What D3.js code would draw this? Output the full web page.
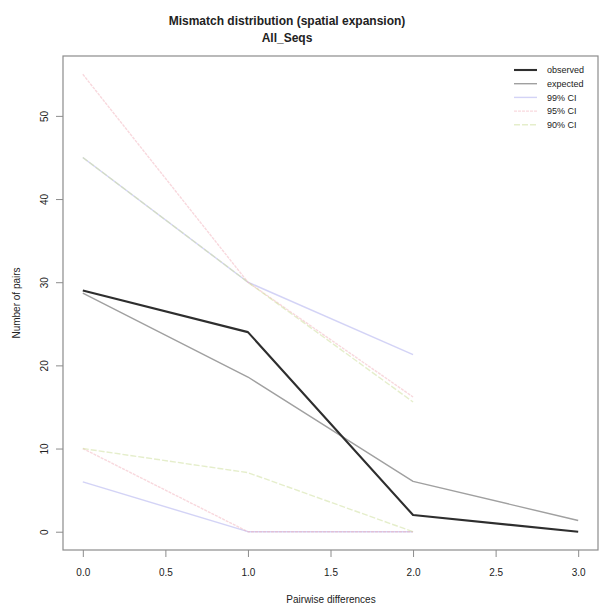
<!DOCTYPE html>
<html>
<head>
<meta charset="utf-8">
<script src="https://cdn.jsdelivr.net/npm/d3@7"></script>
<style>
  body { margin: 0; background: #fff; }
  svg text { font-family: "Liberation Sans", Arial, sans-serif; fill: #222; }
</style>
</head>
<body>
<div class="chart"></div>
<script>
// データ
const diffs = [0, 1, 2, 3];
const observed = [29, 24, 2, 0];
const expected = [28.7, 18.6, 6.05, 1.35];
const ciX = [0, 1, 2];
const ci99Upper = [45, 30, 21.3];
const ci99Lower = [6, 0, 0];
const ci95Upper = [55, 30, 16.2];
const ci95Lower = [10, 0, 0];
const ci90Upper = [45, 30, 15.6];
const ci90Lower = [10, 7.1, 0];
const xTicks = [0, 0.5, 1, 1.5, 2, 2.5, 3];
const yTicks = [0, 10, 20, 30, 40, 50];
const legendLabels = ["observed", "expected", "99% CI", "95% CI", "90% CI"];

const width = 601, height = 608;
const plot = { left: 63, right: 598, top: 56, bottom: 550 };

const svg = d3.select(".chart").append("svg")
    .attr("width", width)
    .attr("height", height);

// スケール (Rのように4%拡張)
const x = d3.scaleLinear().domain([-0.12, 3.12]).range([plot.left, plot.right]);
const y = d3.scaleLinear().domain([-2.2, 57.2]).range([plot.bottom, plot.top]);

// 線のスタイル
const styles = {
    observed: { color: "#2e2e2e", w: 2.1, dash: null, op: 1 },
    expected: { color: "#a0a0a0", w: 1.4, dash: null, op: 1 },
    ci99: { color: "#a8a8ee", w: 1.4, dash: null, op: 0.5 },
    ci95: { color: "#f0a8b4", w: 1.4, dash: "3,1", op: 0.45 },
    ci90: { color: "#cfe0a0", w: 1.4, dash: "6,2", op: 0.55 }
};

const line = d3.line().x(d => x(d[0])).y(d => y(d[1]));

function drawSeries(xs, ys, st) {
    svg.append("path")
        .datum(xs.map((v, i) => [v, ys[i]]))
        .attr("d", line)
        .attr("fill", "none")
        .attr("stroke", st.color)
        .attr("stroke-width", st.w)
        .attr("stroke-opacity", st.op)
        .attr("stroke-dasharray", st.dash)
        .attr("stroke-linejoin", "round");
}

// CI 線
drawSeries(ciX, ci99Upper, styles.ci99);
drawSeries(ciX, ci99Lower, styles.ci99);
drawSeries(ciX, ci95Upper, styles.ci95);
drawSeries(ciX, ci95Lower, styles.ci95);
drawSeries(ciX, ci90Upper, styles.ci90);
drawSeries(ciX, ci90Lower, styles.ci90);
// 期待値と観測値
drawSeries(diffs, expected, styles.expected);
drawSeries(diffs, observed, styles.observed);

// 枠
svg.append("rect")
    .attr("x", plot.left).attr("y", plot.top)
    .attr("width", plot.right - plot.left)
    .attr("height", plot.bottom - plot.top)
    .attr("fill", "none")
    .attr("stroke", "#8c8c8c")
    .attr("stroke-width", 1.2);

// x軸
const xAxis = svg.append("g")
    .attr("transform", `translate(0,${plot.bottom})`)
    .call(d3.axisBottom(x).tickValues(xTicks).tickFormat(d3.format(".1f")).tickSize(7).tickPadding(12));
xAxis.select(".domain").remove();
xAxis.selectAll("line").attr("stroke", "#8c8c8c");
xAxis.selectAll("text").style("font-size", "10px").attr("fill", "#333");

// y軸
const yAxis = svg.append("g")
    .attr("transform", `translate(${plot.left},0)`)
    .call(d3.axisLeft(y).tickValues(yTicks).tickSize(7).tickPadding(0));
yAxis.select(".domain").remove();
yAxis.selectAll("line").attr("stroke", "#8c8c8c");
yAxis.selectAll("text")
    .style("font-size", "10px")
    .attr("fill", "#333")
    .attr("text-anchor", "middle")
    .attr("x", 0).attr("dy", 0)
    .attr("transform", "translate(-15,0) rotate(-90)");

// タイトル
svg.append("text")
    .attr("x", 287).attr("y", 25)
    .attr("text-anchor", "middle")
    .style("font-size", "12px").style("font-weight", "bold")
    .text("Mismatch distribution (spatial expansion)");
svg.append("text")
    .attr("x", 287).attr("y", 42)
    .attr("text-anchor", "middle")
    .style("font-size", "12px").style("font-weight", "bold")
    .text("All_Seqs");

// 軸ラベル
svg.append("text")
    .attr("x", 331).attr("y", 603)
    .attr("text-anchor", "middle")
    .style("font-size", "10px")
    .text("Pairwise differences");
svg.append("text")
    .attr("transform", "translate(20,303) rotate(-90)")
    .attr("text-anchor", "middle")
    .style("font-size", "10px")
    .text("Number of pairs");

// 凡例
const legendStyles = [styles.observed, styles.expected, styles.ci99, styles.ci95, styles.ci90];
const legend = svg.append("g").attr("transform", "translate(514,70)");
legendLabels.forEach((lab, i) => {
    const st = legendStyles[i];
    const g = legend.append("g").attr("transform", `translate(0,${i * 13.7})`);
    g.append("line")
        .attr("x1", 0).attr("x2", 23)
        .attr("stroke", st.color)
        .attr("stroke-width", st.w)
        .attr("stroke-opacity", st.op)
        .attr("stroke-dasharray", st.dash);
    g.append("text")
        .attr("x", 33).attr("dy", "0.35em")
        .style("font-size", "9px")
        .attr("fill", "#333")
        .text(lab);
});
</script>
</body>
</html>
